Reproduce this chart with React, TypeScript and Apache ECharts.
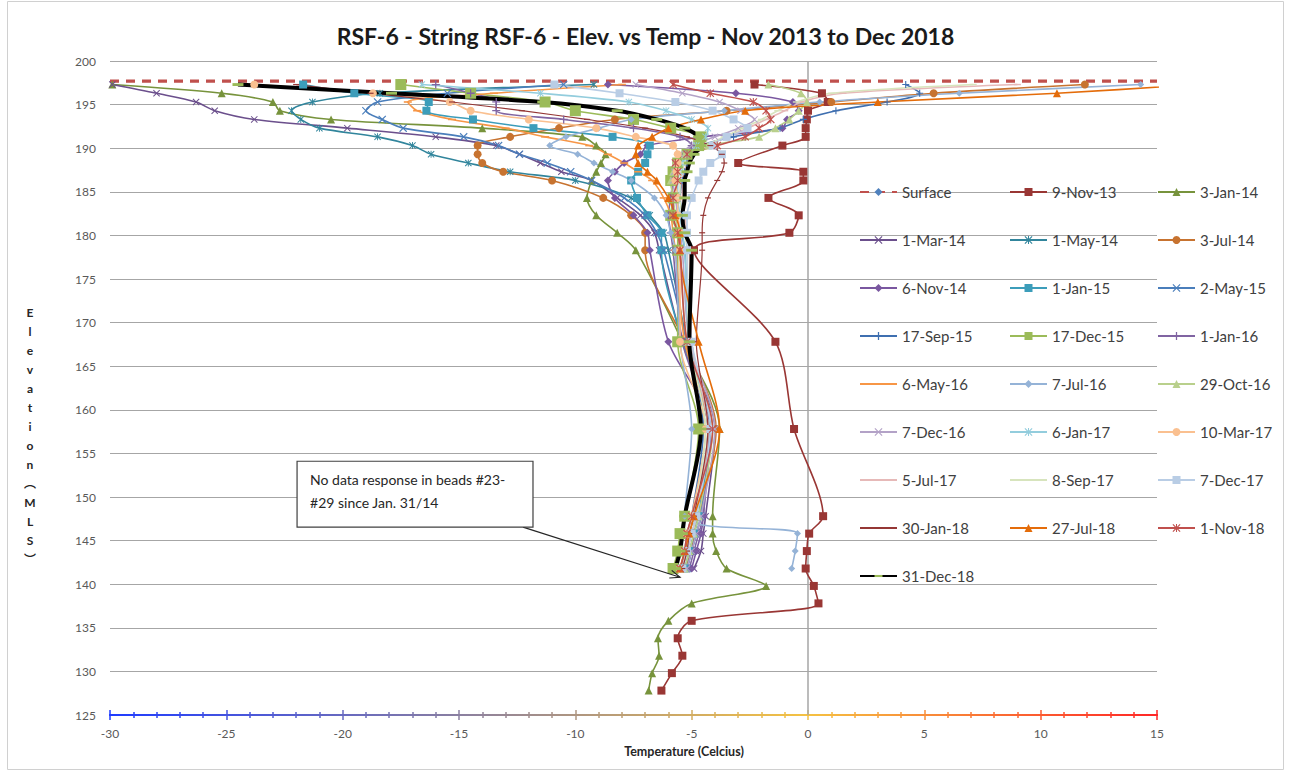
import React, { useEffect, useRef } from 'react';
import * as echarts from 'echarts';

// ---------- data ----------
const ELEV = [197.3, 196.3, 195.3, 194.3, 193.3, 192.3, 191.3, 190.3, 189.3, 188.3, 187.3, 186.3, 184.3, 182.3, 180.3, 178.3, 167.8, 157.8, 147.8, 145.8, 143.8, 141.8];
const ELEV_DEEP = [139.8, 137.8, 135.8, 133.8, 131.8, 129.8, 127.8];
const SURFACE_ELEV = 197.7;
const X_RANGE = [-30, 15];
const Y_RANGE = [125, 200];

const T_9NOV13 = [-2.3, 0.6, 0.85, 0.0, -0.05, -0.1, -0.1, -1.1, null, -3.0, -0.2, -0.2, -1.7, -0.4, -0.8, -4.9, -1.4, -0.6, 0.65, 0.05, -0.05, -0.1];
const T_9NOV13_DEEP = [0.25, 0.45, -5.0, -5.6, -5.4, -5.85, -6.3];
const T_3JAN14 = [-29.9, -25.2, -23.0, -22.7, -20.5, -14.0, -9.7, -9.1, -8.7, -8.9, -9.1, -9.3, -9.5, -9.1, -8.2, -7.4, -5.4, -3.8, -4.1, -4.1, -3.95, -3.5];
const T_3JAN14_DEEP = [-1.8, -5.0, -6.0, -6.45, -6.4, -6.7, -6.85];
const T_1MAR14 = [-29.9, -28.0, -26.3, -25.5, -23.8, -19.8, -16.0, -13.4, -12.4, -11.5, -10.6, -9.3, -8.2, -7.2, -6.6, -6.4, -5.4, -4.0, -4.4, -4.5, -4.6, -4.9];
const T_1MAY14 = [-9.2, -18.4, -21.3, -22.2, -21.8, -21.0, -18.5, -17.0, -16.2, -14.6, -12.8, -10.0, -7.6, -6.8, -6.2, -6.0, -5.2, -4.3, -4.6, -4.8, -5.0, -5.2];
const T_3JUL14 = [11.9, 5.4, 1.0, -3.5, -8.3, -10.7, -12.8, -14.2, -14.2, -14.0, -13.1, -11.0, -8.8, -7.6, -7.0, -7.0, -5.3, -3.95, -4.7, -4.9, -5.0, -5.3];
const T_6NOV14 = [-8.6, -3.1, -0.65, -0.4, -0.9, -1.1, -4.5, -6.9, -7.2, -7.9, -8.3, -8.6, -8.3, -7.5, -6.9, -6.8, -6.0, -4.2, -4.5, -4.6, -4.8, -5.0];
const T_1JAN15 = [-21.7, -19.5, -16.3, -16.4, -14.4, -11.8, -8.4, -6.8, -6.9, -7.0, -7.3, -7.6, -7.35, -6.9, -6.3, -6.3, -5.4, -4.3, -4.7, -4.9, -5.1, -5.3];
const T_2MAY15 = [-10.5, -15.5, -18.5, -19.0, -18.3, -17.4, -14.8, -13.3, -12.4, -11.2, -10.2, -9.3, -7.9, -7.0, -6.5, -6.2, -5.2, -4.2, -4.6, -4.8, -5.0, -5.2];
const T_17SEP15 = [4.2, 4.8, 3.4, 1.2, -0.2, -1.2, -3.2, -4.6, -5.0, -5.2, -5.3, -5.4, -5.5, -5.4, -5.4, -5.3, -5.0, -4.5, -5.0, -5.2, -5.3, -5.5];
const T_17DEC15 = [-17.5, -14.5, -11.3, -10.0, -7.5, -5.9, -4.6, -4.7, -5.2, -5.6, -5.8, -5.9, -5.8, -5.9, -5.6, -5.6, -5.6, -4.7, -5.3, -5.5, -5.6, -5.8];
const T_1JAN16 = [-16.0, -14.5, -13.4, -13.4, -10.5, -7.5, -5.5, -5.0, -5.3, -5.6, -5.7, -5.8, -5.9, -6.0, -5.9, -5.8, -5.4, -4.3, -4.5, -4.7, -4.9, -5.1];
const T_6MAY16 = [-8.0, -13.5, -17.2, -16.8, -15.3, -13.0, -11.3, -9.4, -8.6, -7.9, -7.3, -6.7, -6.2, -5.9, -5.8, -5.7, -5.3, -4.3, -4.8, -5.0, -5.2, -5.4];
const T_7JUL16 = [14.3, 6.5, 0.5, -3.6, -7.6, -9.0, -10.4, -11.1, -9.9, -9.2, -8.4, -7.6, -6.6, -6.1, -5.9, -5.7, -5.5, -5.0, -5.3, -0.45, -0.55, -0.7];
const T_29OCT16 = [-1.7, -0.3, -0.05, -0.4, -0.8, -1.4, -2.1, -4.3, -5.3, -5.7, -5.8, -5.9, -5.8, -5.7, -5.6, -5.5, -5.2, -4.1, -4.7, -4.9, -5.1, -5.3];
const T_7DEC16 = [-7.4, -5.4, -3.8, -2.9, -2.3, -3.0, -4.0, -5.0, -5.5, -5.7, -5.75, -5.8, -5.7, -5.6, -5.5, -5.4, -5.1, -4.0, -4.6, -4.8, -5.0, -5.2];
const T_6JAN17 = [-16.6, -11.5, -7.7, -6.1, -5.0, -4.3, -4.4, -4.8, -5.2, -5.4, -5.5, -5.6, -5.6, -5.5, -5.4, -5.3, -5.1, -4.3, -4.9, -5.1, -5.2, -5.4];
const T_10MAR17 = [-23.8, -18.7, -15.4, -14.5, -12.0, -9.1, -7.4, -5.8, -5.6, -5.6, -5.65, -5.7, -5.6, -5.6, -5.5, -5.5, -5.5, -4.4, -5.0, -5.2, -5.3, -5.5];
const T_5JUL17 = [9.0, 1.5, -0.3, -1.0, -1.8, -2.6, -3.5, -4.3, -4.9, -5.2, -5.3, -5.4, -5.4, -5.3, -5.2, -5.1, -5.0, -4.3, -4.8, -5.0, -5.2, -5.4];
const T_8SEP17 = [7.1, 1.0, -0.5, -1.3, -2.0, -2.8, -3.6, -4.4, -5.0, -5.3, -5.4, -5.5, -5.5, -5.4, -5.3, -5.2, -5.1, -4.4, -4.9, -5.1, -5.3, -5.5];
const T_7DEC17 = [-10.9, -8.1, -5.7, -4.1, -3.2, -2.6, -3.5, -4.1, -3.7, -4.2, -4.5, -4.7, -5.0, -5.2, -5.2, -5.2, -5.0, -4.2, -4.8, -5.0, -5.2, -5.4];
const T_30JAN18 = [-22.0, -18.8, -15.3, -12.3, -9.5, -7.0, -5.2, -4.2, -3.7, -3.6, -3.7, -3.9, -4.3, -4.5, -4.55, -4.55, -4.8, -4.3, -4.9, -5.1, -5.2, -5.4];
const T_27JUL18 = [16.8, 10.7, 3.0, -2.7, -4.6, -6.0, -6.7, -7.3, -7.4, -7.3, -6.9, -6.5, -6.0, -5.7, -5.5, -5.5, -4.7, -3.8, -4.9, -5.1, -5.3, -5.5];
const T_1NOV18 = [-5.8, -4.2, -2.35, -1.8, -1.6, -2.1, -2.7, -3.9, -5.2, -5.7, -5.6, -5.6, -5.8, -5.8, -5.6, -5.5, -5.2, -4.1, -5.0, -5.2, -5.3, -5.5];
const T_31DEC18 = [-24.5, -17.9, -11.4, -8.2, -6.5, -5.3, -4.7, -4.6, -4.9, -5.1, -5.2, -5.3, -5.3, -5.4, -5.3, -5.0, -5.1, -4.6, -5.3, -5.4, -5.5, -5.7];

const LEGEND_COL1 = ['Surface', '1-Mar-14', '6-Nov-14', '17-Sep-15', '6-May-16', '7-Dec-16', '5-Jul-17', '30-Jan-18', '31-Dec-18'];
const LEGEND_COL2 = ['9-Nov-13', '1-May-14', '1-Jan-15', '17-Dec-15', '7-Jul-16', '6-Jan-17', '8-Sep-17', '27-Jul-18'];
const LEGEND_COL3 = ['3-Jan-14', '3-Jul-14', '2-May-15', '1-Jan-16', '29-Oct-16', '10-Mar-17', '7-Dec-17', '1-Nov-18'];

const NOTE_LINES = ['No data response in beads #23-', '#29 since Jan. 31/14'];
const NOTE_BOX_TL = [-21.96, 154.1];
const NOTE_BOX_BR = [-11.82, 146.55];
const NOTE_ARROW_TAIL = [-12.25, 146.55];
const NOTE_ARROW_TIP = [-5.5, 140.8];

// ---------- symbols ----------
const SYM_X = 'path://M1,0L5,4L9,0L10,1L6,5L10,9L9,10L5,6L1,10L0,9L4,5L0,1Z';
const SYM_STAR = 'path://M1,0L5,4L9,0L10,1L6,5L10,9L9,10L5,6L1,10L0,9L4,5L0,1Z M4.35,0H5.65V10H4.35Z';
const SYM_PLUS = 'path://M4.2,0H5.8V4.2H10V5.8H5.8V10H4.2V5.8H0V4.2H4.2Z';
const SYM_DASH = 'path://M0,0M10,10M0,4H10V6H0Z';
const SYM_DASH_BIG = 'path://M0,0M10,10M0,3.7H10V6.3H0Z';

function pairs(temps: (number | null)[], elevs: number[]) {
  const out: number[][] = [];
  temps.forEach((t, i) => {
    if (t !== null && t !== undefined) out.push([t, elevs[i]]);
  });
  return out;
}

function mk(name: string, data: number[][], color: string, symbol: string, size: number, width = 1.6, markerColor?: string) {
  return {
    name,
    type: 'line',
    data,
    smooth: 0.3,
    symbol,
    symbolSize: size,
    showSymbol: true,
    lineStyle: { color, width },
    itemStyle: { color: markerColor || color, borderWidth: 0 },
    emphasis: { disabled: true },
    z: 3,
  };
}

export default function App() {
  const ref = useRef<HTMLDivElement>(null);
  useEffect(() => {
    const chart = echarts.init(ref.current!, null, { renderer: 'svg' });
    const axisGrad = () =>
      new echarts.graphic.LinearGradient(110, 0, 1157, 0, [
        { offset: 0, color: '#1f3cff' },
        { offset: 0.665, color: '#f5c242' },
        { offset: 1, color: '#ff2626' },
      ], true);

    const FONT = 'Lato, "Noto Sans", sans-serif';
    const legendBase = {
      orient: 'vertical',
      top: 179,
      itemGap: 32,
      itemWidth: 37,
      itemHeight: 10,
      selectedMode: false,
      textStyle: { fontFamily: FONT, fontSize: 15, color: '#404040', lineHeight: 16 },
    };

    const series: any[] = [
      {
        name: 'Surface',
        type: 'line',
        data: [[X_RANGE[0], SURFACE_ELEV], [X_RANGE[1], SURFACE_ELEV]],
        symbol: 'diamond',
        symbolSize: 8,
        showSymbol: false,
        lineStyle: { color: '#C0504D', width: 3.2, type: [9, 7] },
        itemStyle: { color: '#4F81BD' },
        emphasis: { disabled: true },
        z: 2,
        markLine: {
          silent: true,
          symbol: ['none', 'none'],
          label: { show: false },
          lineStyle: { color: '#a6a6a6', width: 1.5, type: 'solid' },
          data: [{ xAxis: 0 }],
          z: 1,
        },
      },
      mk('9-Nov-13', pairs(T_9NOV13.concat(T_9NOV13_DEEP), ELEV.concat(ELEV_DEEP)), '#993634', 'rect', 8),
      mk('3-Jan-14', pairs(T_3JAN14.concat(T_3JAN14_DEEP), ELEV.concat(ELEV_DEEP)), '#77933C', 'triangle', 8),
      mk('1-Mar-14', pairs(T_1MAR14, ELEV), '#6B4F8C', SYM_X, 7),
      mk('1-May-14', pairs(T_1MAY14, ELEV), '#31859C', SYM_STAR, 7),
      mk('3-Jul-14', pairs(T_3JUL14, ELEV), '#C77330', 'circle', 8),
      mk('6-Nov-14', pairs(T_6NOV14, ELEV), '#7A57A0', 'diamond', 8),
      mk('1-Jan-15', pairs(T_1JAN15, ELEV), '#3C9DBA', 'rect', 8),
      mk('2-May-15', pairs(T_2MAY15, ELEV), '#4A7EBB', SYM_X, 8),
      mk('17-Sep-15', pairs(T_17SEP15, ELEV), '#3F6FB0', SYM_PLUS, 7),
      mk('17-Dec-15', pairs(T_17DEC15, ELEV), '#9BBB59', 'rect', 11),
      mk('1-Jan-16', pairs(T_1JAN16, ELEV), '#8064A2', SYM_PLUS, 8),
      mk('6-May-16', pairs(T_6MAY16, ELEV), '#F79646', SYM_DASH, 8),
      mk('7-Jul-16', pairs(T_7JUL16, ELEV), '#95B3D7', 'diamond', 7),
      mk('29-Oct-16', pairs(T_29OCT16, ELEV), '#B9D08C', 'triangle', 8),
      mk('7-Dec-16', pairs(T_7DEC16, ELEV), '#B3A2C7', SYM_X, 7),
      mk('6-Jan-17', pairs(T_6JAN17, ELEV), '#93CDDD', SYM_STAR, 7),
      mk('10-Mar-17', pairs(T_10MAR17, ELEV), '#FAC090', 'circle', 8),
      mk('5-Jul-17', pairs(T_5JUL17, ELEV), '#E6B9B8', SYM_DASH, 7),
      mk('8-Sep-17', pairs(T_8SEP17, ELEV), '#D7E4BD', SYM_DASH, 7),
      mk('7-Dec-17', pairs(T_7DEC17, ELEV), '#B9CDE5', 'rect', 8),
      mk('30-Jan-18', pairs(T_30JAN18, ELEV), '#953735', SYM_DASH, 6, 1.2),
      mk('27-Jul-18', pairs(T_27JUL18, ELEV), '#E46C0A', 'triangle', 8),
      mk('1-Nov-18', pairs(T_1NOV18, ELEV), '#C0504D', SYM_STAR, 8),
      mk('31-Dec-18', pairs(T_31DEC18, ELEV), '#000000', SYM_DASH_BIG, 11, 4, '#9BBB59'),
    ];

    const xBase = {
      type: 'value',
      min: X_RANGE[0],
      max: X_RANGE[1],
      interval: 5,
      position: 'bottom',
      axisLine: { show: true, onZero: false, lineStyle: { color: axisGrad(), width: 2 } },
      splitLine: { show: false },
    };

    chart.setOption({
      animation: false,
      backgroundColor: '#ffffff',
      title: {
        text: 'RSF-6 - String RSF-6 - Elev. vs Temp - Nov 2013 to Dec 2018',
        left: 'center',
        top: 19,
        textStyle: { fontFamily: FONT, fontSize: 23, fontWeight: 'bold', color: '#1a1a1a' },
      },
      grid: { left: 110, right: 134, top: 61, bottom: 57, containLabel: false },
      xAxis: [
        {
          ...xBase,
          axisTick: { show: true, length: 5, lineStyle: { color: axisGrad(), width: 1.5 } },
          minorTick: { show: true, splitNumber: 5, length: 3, lineStyle: { color: axisGrad(), width: 1.5 } },
          axisLabel: { show: true, margin: 12, fontFamily: FONT, fontSize: 12, color: '#595959' },
        },
        {
          ...xBase,
          axisTick: { show: true, inside: true, length: 5, lineStyle: { color: axisGrad(), width: 1.5 } },
          minorTick: { show: true, splitNumber: 5, length: 3, lineStyle: { color: axisGrad(), width: 1.5 } },
          axisLabel: { show: false },
        },
      ],
      yAxis: {
        type: 'value',
        min: Y_RANGE[0],
        max: Y_RANGE[1],
        interval: 5,
        axisLine: { show: false },
        axisTick: { show: false },
        axisLabel: { margin: 14, fontFamily: FONT, fontSize: 12, color: '#595959' },
        splitLine: { show: true, lineStyle: { color: '#a6a6a6', width: 1.2 } },
      },
      legend: [
        { ...legendBase, left: 854, data: LEGEND_COL1 },
        { ...legendBase, left: 1004, data: LEGEND_COL2 },
        { ...legendBase, left: 1152, data: LEGEND_COL3 },
      ],
      series,
    });

    const px = (p: number[]) => chart.convertToPixel({ xAxisIndex: 0, yAxisIndex: 0 }, p) as number[];
    const tl = px(NOTE_BOX_TL);
    const br = px(NOTE_BOX_BR);
    const tail = px(NOTE_ARROW_TAIL);
    const tip = px(NOTE_ARROW_TIP);
    const ang = Math.atan2(tip[1] - tail[1], tip[0] - tail[0]);
    const hl = 10, hw = 4;
    const back = [tip[0] - hl * Math.cos(ang), tip[1] - hl * Math.sin(ang)];
    const perp = [-Math.sin(ang), Math.cos(ang)];

    chart.setOption({
      graphic: [
        {
          type: 'rect',
          silent: true,
          shape: { x: 7.5, y: 1.5, width: 1276, height: 768 },
          style: { fill: 'none', stroke: '#d0d0d0', lineWidth: 1 },
          z: 0,
        },
        {
          type: 'text',
          silent: true,
          x: 30,
          y: 303,
          style: {
            text: 'E\nl\ne\nv\na\nt\ni\no\nn\n︵\nM\nL\nS\n︶',
            fontFamily: 'Lato, "Noto Sans CJK SC", sans-serif',
            fontSize: 12,
            fontWeight: 'bold',
            lineHeight: 19,
            fill: '#262626',
            align: 'center',
          },
        },
        {
          type: 'text',
          silent: true,
          x: 684,
          y: 745,
          style: {
            text: 'Temperature (Celcius)',
            fontFamily: FONT,
            fontSize: 12.5,
            fontWeight: 'bold',
            fill: '#262626',
            align: 'center',
          },
        },
        {
          type: 'line',
          silent: true,
          shape: { x1: tail[0], y1: tail[1], x2: tip[0], y2: tip[1] },
          style: { stroke: '#262626', lineWidth: 1.2 },
          z: 20,
        },
        {
          type: 'polyline',
          silent: true,
          shape: {
            points: [
              [back[0] + perp[0] * hw, back[1] + perp[1] * hw],
              [tip[0], tip[1]],
              [back[0] - perp[0] * hw, back[1] - perp[1] * hw],
            ],
          },
          style: { stroke: '#262626', lineWidth: 1.2, fill: 'none' },
          z: 20,
        },
        {
          type: 'rect',
          silent: true,
          shape: { x: tl[0], y: tl[1], width: br[0] - tl[0], height: br[1] - tl[1] },
          style: { fill: '#ffffff', stroke: '#404040', lineWidth: 1.2 },
          z: 21,
        },
        {
          type: 'text',
          silent: true,
          x: tl[0] + 13,
          y: tl[1] + 7,
          style: {
            text: NOTE_LINES.join('\n'),
            fontFamily: FONT,
            fontSize: 14,
            lineHeight: 23,
            fill: '#262626',
          },
          z: 22,
        },
      ],
    });

    return () => chart.dispose();
  }, []);

  return (
    <div
      ref={ref}
      style={{ position: 'absolute', left: 0, top: 0, width: 1291, height: 772, background: '#ffffff' }}
    />
  );
}
